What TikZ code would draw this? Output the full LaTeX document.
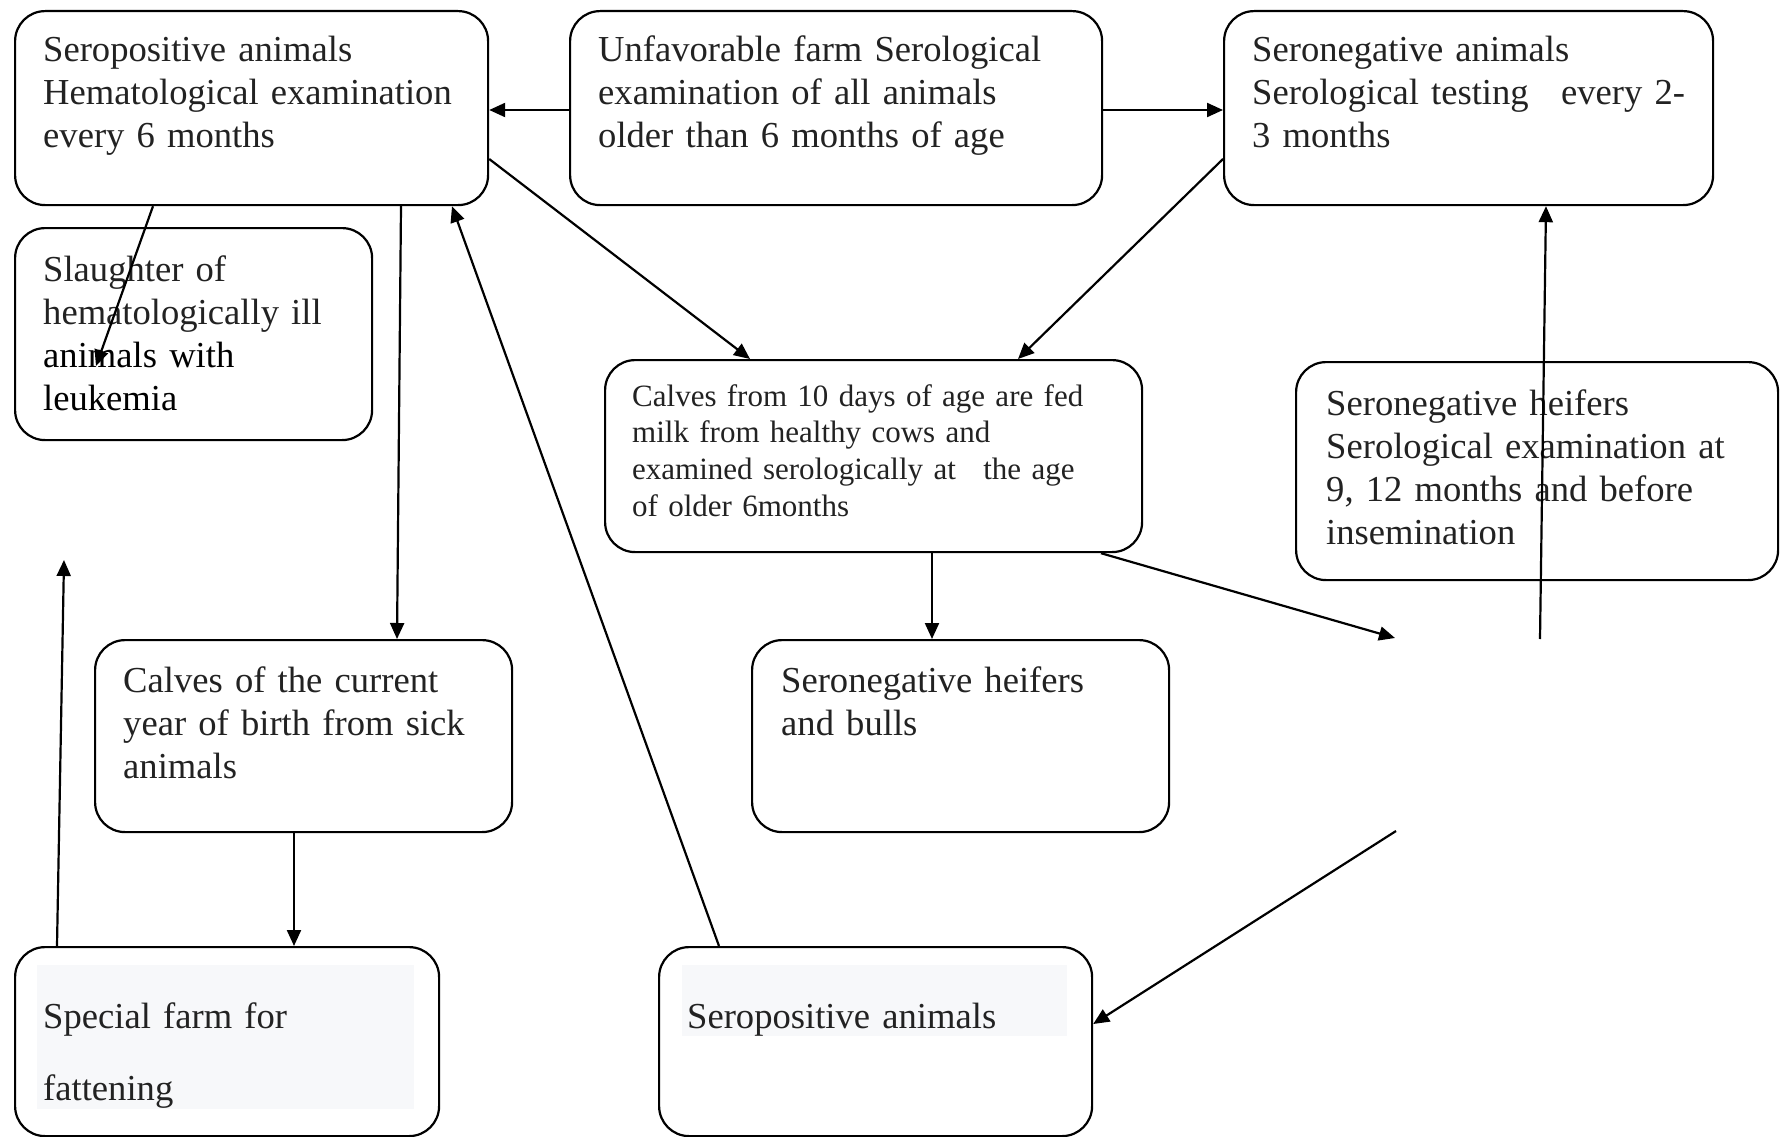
\documentclass[tikz,border=0pt]{standalone}
\usepackage{fontspec}
\setmainfont{Liberation Serif}
\usetikzlibrary{arrows.meta,calc}
\definecolor{txtc}{HTML}{222222}
\definecolor{lightshade}{HTML}{F7F8FA}
\tikzset{
  box/.style={draw=black, line width=2.2pt, rounded corners=30pt, anchor=north west, inner sep=0pt},
  txt/.style={anchor=base west, inner sep=0pt, align=left, text=txtc, text width=#1,
              font=\fontsize{36.6}{43}\selectfont},
  txt/.default=440pt,
  smalltxt/.style={anchor=base west, inner sep=0pt, align=left, text=txtc, text width=480pt,
              font=\fontsize{31}{36.7}\selectfont},
  arr/.style={line width=2.2pt, -{Triangle[length=16pt,width=14pt]}}
}
\begin{document}
\begin{tikzpicture}[x=1pt,y=-1pt]
\useasboundingbox (0,0) rectangle (1780,1137);
% boxes
\node[box, minimum width=473pt, minimum height=194pt] (A) at (14,10) {};
\node[box, minimum width=532pt, minimum height=194pt] (B) at (569,10) {};
\node[box, minimum width=489pt, minimum height=194pt] (C) at (1223,10) {};
\node[box, minimum width=357pt, minimum height=212pt] (D) at (14,227) {};
\node[box, minimum width=537pt, minimum height=192pt] (E) at (604,359) {};
\node[box, minimum width=482pt, minimum height=218pt] (F) at (1295,361) {};
\node[box, minimum width=417pt, minimum height=192pt] (G) at (94,639) {};
\node[box, minimum width=417pt, minimum height=192pt] (H) at (751,639) {};
\node[box, minimum width=424pt, minimum height=189pt] (I) at (14,946) {};
\node[box, minimum width=433pt, minimum height=189pt] (J) at (658,946) {};
% shaded text backgrounds
\fill[lightshade] (37,965) rectangle (414,1109);
\fill[lightshade] (682,965) rectangle (1067,1036);
% texts
\node[txt] (tA) at (43,62) {Seropositive animals\\Hematological examination\\every 6 months};
\node[txt=490pt] (tB) at (598,62) {Unfavorable farm Serological\\examination of all animals\\older than 6 months of age};
\node[txt=450pt] (tC) at (1252,62) {Seronegative animals\\Serological testing\hspace{0.55em} every 2-\\3 months};
\node[txt=320pt] (tD) at (43,281) {Slaughter of\\hematologically ill\\\textcolor{black}{animals with}\\\textcolor{black}{leukemia}};
\node[smalltxt] (tE) at (632,406) {Calves from 10 days of age are fed\\milk from healthy cows and\\examined serologically at\hspace{0.55em} the age\\of older 6months};
\node[txt=440pt] (tF) at (1326,415) {Seronegative heifers\\Serological examination at\\9, 12 months and before\\insemination};
\node[txt=380pt] (tG) at (123,692) {Calves of the current\\year of birth from sick\\animals};
\node[txt=380pt] (tH) at (781,692) {Seronegative heifers\\and bulls};
\node[txt=370pt, font=\fontsize{36.6}{72}\selectfont] (tI) at (43,1028) {Special farm for\\fattening};
\node[txt=380pt] (tJ) at (687,1028) {Seropositive animals};
% free ends
\coordinate (f8) at (64,560);
\coordinate (f11) at (1395,638);
\coordinate (s12) at (1540,639);
\coordinate (s13) at (1396,831);
% connectors
\draw[arr] ($(B.north west)+(0,100)$) -- ($(A.north east)+(0,100)$);
\draw[arr] ($(B.north east)+(0,100)$) -- ($(C.north west)+(0,100)$);
\draw[arr] ($(A.south west)+(139,0)$) -- ($(D.north west)+(82,139)$);
\draw[arr] ($(A.south west)+(387,0)$) -- ($(G.north west)+(303,0)$);
\draw[arr] ($(A.north east)+(0,149)$) -- ($(E.north west)+(146,0)$);
\draw[arr] ($(C.north west)+(0,149)$) -- ($(E.north west)+(414,0)$);
\draw[arr] ($(J.north west)+(61,0)$) -- ($(A.south west)+(438,0)$);
\draw[arr] ($(I.north west)+(43,0)$) -- (f8);
\draw[arr] ($(G.south west)+(200,0)$) -- ($(I.north west)+(280,0)$);
\draw[arr] ($(E.south west)+(328,0)$) -- ($(H.north west)+(181,0)$);
\draw[arr] ($(E.south west)+(497,0)$) -- (f11);
\draw[arr] (s12) -- ($(C.south west)+(323,0)$);
\draw[arr] (s13) -- ($(J.north east)+(0,78)$);
\end{tikzpicture}
\end{document}
